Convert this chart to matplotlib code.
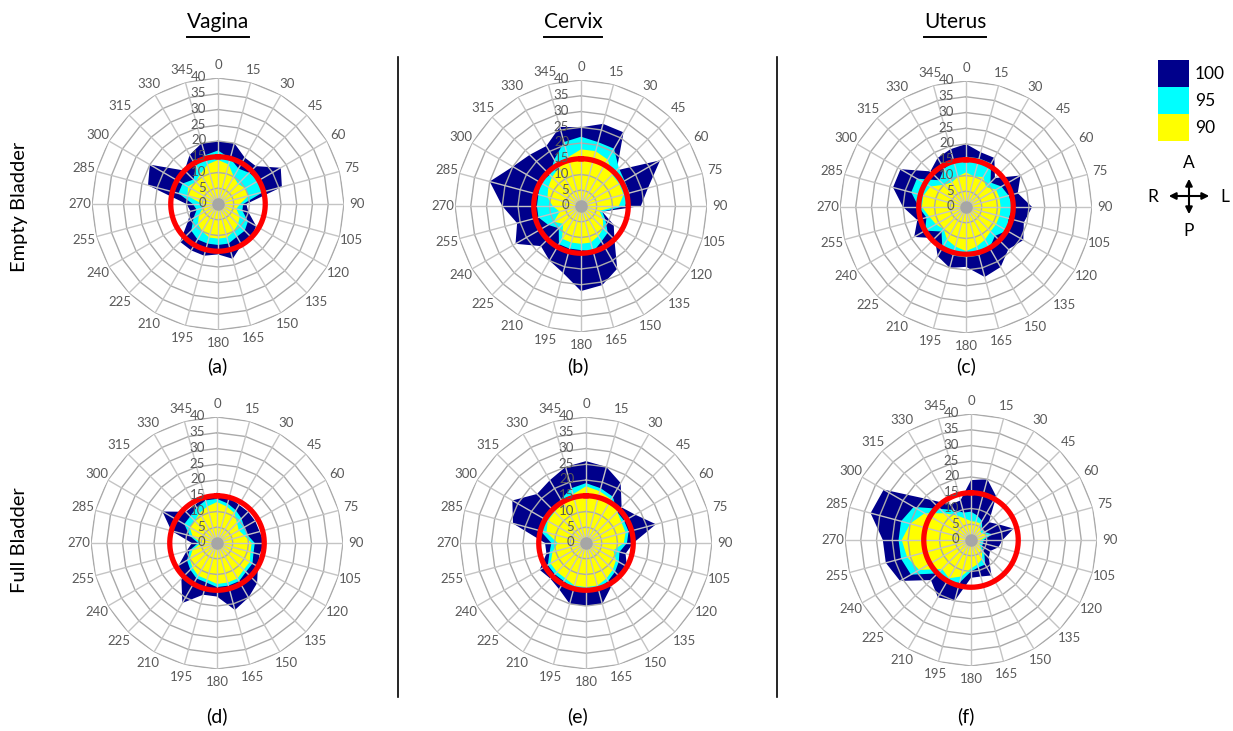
import numpy as np
import matplotlib.pyplot as plt
from matplotlib.lines import Line2D
from matplotlib.patches import FancyArrowPatch, Rectangle

plt.rcParams['font.family'] = ['Lato', 'DejaVu Sans']

W, H = 1233, 731

angles = list(range(0, 360, 15))
rings = [0, 5, 10, 15, 20, 25, 30, 35, 40]
limit_ring = 15

# margin (mm) per gantry angle for 100 / 95 / 90 % coverage
vagina_empty_100 = [20, 20, 17, 17, 23, 21, 9, 10, 14, 15, 15, 18, 16, 17, 17, 17, 11, 9, 10, 23, 25, 15, 18, 20]
vagina_empty_95 = [17, 15, 13, 14, 15, 15, 8, 8, 11, 12, 12, 13, 13, 13, 13, 12, 9, 7, 8, 13, 13, 11, 14, 16]
vagina_empty_90 = [14, 13, 10, 9, 10, 10, 7, 6, 8, 9, 10, 11, 11, 11, 10, 9, 7, 5, 5, 10, 11, 10, 11, 13]

cervix_empty_100 = [25, 27, 27, 16, 29, 22, 19, 7, 12, 15, 23, 26, 27, 22, 20, 18, 24, 21, 25, 30, 25, 23, 22, 26]
cervix_empty_95 = [22, 21, 21, 17, 16, 16, 14, 7, 9, 12, 13, 15, 14, 14, 14, 10, 12, 14, 14, 14, 15, 14, 17, 21]
cervix_empty_90 = [18, 18, 17, 14, 14, 14, 12, 6, 8, 10, 11, 12, 12, 12, 12, 8, 10, 7, 9, 11, 12, 13, 14, 16]

uterus_empty_100 = [20, 18, 18, 13, 20, 17, 21, 19, 21, 19, 22, 23, 19, 20, 18, 14, 19, 16, 20, 24, 24, 16, 18, 19]
uterus_empty_95 = [16, 16, 16, 11, 13, 14, 15, 14, 15, 13, 15, 16, 16, 16, 15, 11, 15, 13, 15, 18, 18, 12, 14, 15]
uterus_empty_90 = [11, 10, 11, 9, 11, 11, 11, 11, 11, 11, 12, 13, 14, 13, 12, 10, 11, 12, 14, 14, 13, 10, 9, 10]

vagina_full_100 = [16, 15, 14, 14, 14, 14, 15, 14, 15, 18, 20, 22, 17, 17, 22, 16, 14, 10, 8, 15, 20, 14, 14, 15]
vagina_full_95 = [14, 13, 12, 11, 10, 10, 12, 12, 13, 13, 14, 14, 14, 13, 13, 12, 11, 9, 6, 9, 12, 12, 13, 14]
vagina_full_90 = [13, 12, 11, 9, 8, 9, 11, 11, 12, 12, 13, 13, 13, 12, 12, 11, 10, 8, 5, 8, 10, 10, 11, 12]

cervix_full_100 = [26, 25, 22, 16, 18, 23, 15, 13, 15, 15, 16, 20, 20, 20, 17, 16, 17, 13, 13, 24, 27, 22, 23, 25]
cervix_full_95 = [19, 18, 17, 14, 14, 14, 13, 11, 12, 13, 14, 15, 15, 15, 14, 14, 14, 12, 11, 15, 16, 15, 16, 18]
cervix_full_90 = [18, 17, 16, 14, 13, 13, 12, 9, 11, 12, 13, 14, 14, 14, 13, 13, 13, 11, 9, 13, 14, 14, 15, 16]

uterus_full_100 = [19, 20, 16, 8, 10, 14, 10, 9, 7, 8, 13, 12, 12, 20, 21, 18, 26, 28, 28, 33, 32, 18, 13, 13]
uterus_full_95 = [9, 8, 7, 5, 5, 7, 4, 4, 4, 6, 9, 9, 10, 14, 16, 15, 22, 23, 23, 23, 21, 14, 11, 9]
uterus_full_90 = [6, 6, 6, 4, 4, 6, 3, 3, 3, 5, 7, 8, 9, 12, 14, 13, 19, 21, 22, 20, 17, 12, 9, 7]

levels = ['100', '95', '90']
colors = ['#00008B', '#00FFFF', '#FFFF00']
titles = ['Vagina', 'Cervix', 'Uterus']
rows = ['Empty Bladder', 'Full Bladder']
tags = ['(a)', '(b)', '(c)', '(d)', '(e)', '(f)']

panels = [
    (vagina_empty_100, vagina_empty_95, vagina_empty_90),
    (cervix_empty_100, cervix_empty_95, cervix_empty_90),
    (uterus_empty_100, uterus_empty_95, uterus_empty_90),
    (vagina_full_100, vagina_full_95, vagina_full_90),
    (cervix_full_100, cervix_full_95, cervix_full_90),
    (uterus_full_100, uterus_full_95, uterus_full_90),
]
# chart centres and outer radius, pixels
centres = [(218, 204), (581, 206), (966, 207), (217, 543), (586, 543), (971, 540)]
R = 126
tag_pos = [(217, 366), (578, 366), (966, 366), (217, 716), (578, 716), (966, 716)]
title_x = [218, 573, 955]


def fx(x):
    return x / W


def fy(y):
    return 1 - y / H


def radar(ax, series):
    th = np.deg2rad(angles)
    th_c = np.append(th, th[0])
    for vals, c in zip(series, colors):
        ax.fill(th_c, np.append(vals, vals[0]), color=c, lw=0, zorder=1)
    # polygon rings and spokes
    for r in rings[1:]:
        ax.plot(th_c, [r] * len(th_c), color='#aaaaaa', lw=1.0, zorder=2)
    for t in th:
        ax.plot([t, t], [0, rings[-1]], color='#c4c4c4', lw=1.0, zorder=2)
    circ = np.linspace(0, 2 * np.pi, 361)
    ax.plot(circ, [limit_ring] * len(circ), color='#FF0000', lw=3.8, zorder=3)
    ax.plot([0], [0], 'o', color='#a6a6a6', ms=8, zorder=4)
    for r in rings:
        ax.annotate(str(r), xy=(0, r), xytext=(-8.5, 0.5), textcoords='offset points',
                    ha='right', va='center', fontsize=9.5, color='#595959', zorder=5)
    for a in angles:
        ax.text(np.deg2rad(a), 44, str(a), ha='center', va='center', fontsize=9.5,
                color='#595959', clip_on=False)
    ax.set_theta_zero_location('N')
    ax.set_theta_direction(-1)
    ax.set_ylim(0, rings[-1])
    ax.grid(False)
    ax.set_xticks([])
    ax.set_yticks([])
    ax.spines['polar'].set_visible(False)
    ax.patch.set_alpha(0)


fig = plt.figure(figsize=(12.33, 7.31), dpi=100)

for i, series in enumerate(panels):
    cx, cy = centres[i]
    ax = fig.add_axes([fx(cx - R), fy(cy + R), 2 * R / W, 2 * R / H], projection='polar')
    radar(ax, series)
    fig.text(fx(tag_pos[i][0]), fy(tag_pos[i][1]), tags[i], ha='center', va='center', fontsize=14)

title_texts = []
for x, t in zip(title_x, titles):
    title_texts.append(fig.text(fx(x), fy(22), t, ha='center', va='center', fontsize=15))

fig.text(fx(20), fy(207), rows[0], rotation=90, ha='center', va='center', fontsize=14.5)
fig.text(fx(20), fy(540), rows[1], rotation=90, ha='center', va='center', fontsize=14.5)

# column separators
for x in [398, 777]:
    fig.add_artist(Line2D([fx(x), fx(x)], [fy(57), fy(697)], color='black', lw=1.2))

# legend boxes
box_top = [60, 87, 114]
for top, c, lab in zip(box_top, colors, levels):
    fig.add_artist(Rectangle((fx(1158), fy(top + 27)), 31 / W, 27 / H, color=c, lw=0))
    fig.text(fx(1195), fy(top + 14), lab, ha='left', va='center', fontsize=12.5)

# orientation cross
arr = dict(arrowstyle='<|-|>', mutation_scale=10, color='black', lw=1.5)
fig.add_artist(FancyArrowPatch((fx(1189), fy(176)), (fx(1189), fy(217)), transform=fig.transFigure, **arr))
fig.add_artist(FancyArrowPatch((fx(1166), fy(196)), (fx(1212), fy(196)), transform=fig.transFigure, **arr))
fig.text(fx(1189), fy(163), 'A', ha='center', va='center', fontsize=12.5)
fig.text(fx(1189), fy(231), 'P', ha='center', va='center', fontsize=12.5)
fig.text(fx(1153), fy(197), 'R', ha='center', va='center', fontsize=12.5)
fig.text(fx(1225), fy(197), 'L', ha='center', va='center', fontsize=12.5)

# underline the column titles
fig.canvas.draw()
rend = fig.canvas.get_renderer()
for t in title_texts:
    bb = t.get_window_extent(rend).transformed(fig.transFigure.inverted())
    fig.add_artist(Line2D([bb.x0, bb.x1], [fy(37), fy(37)], color='black', lw=1.4))

fig.savefig('out.png', dpi=100)
